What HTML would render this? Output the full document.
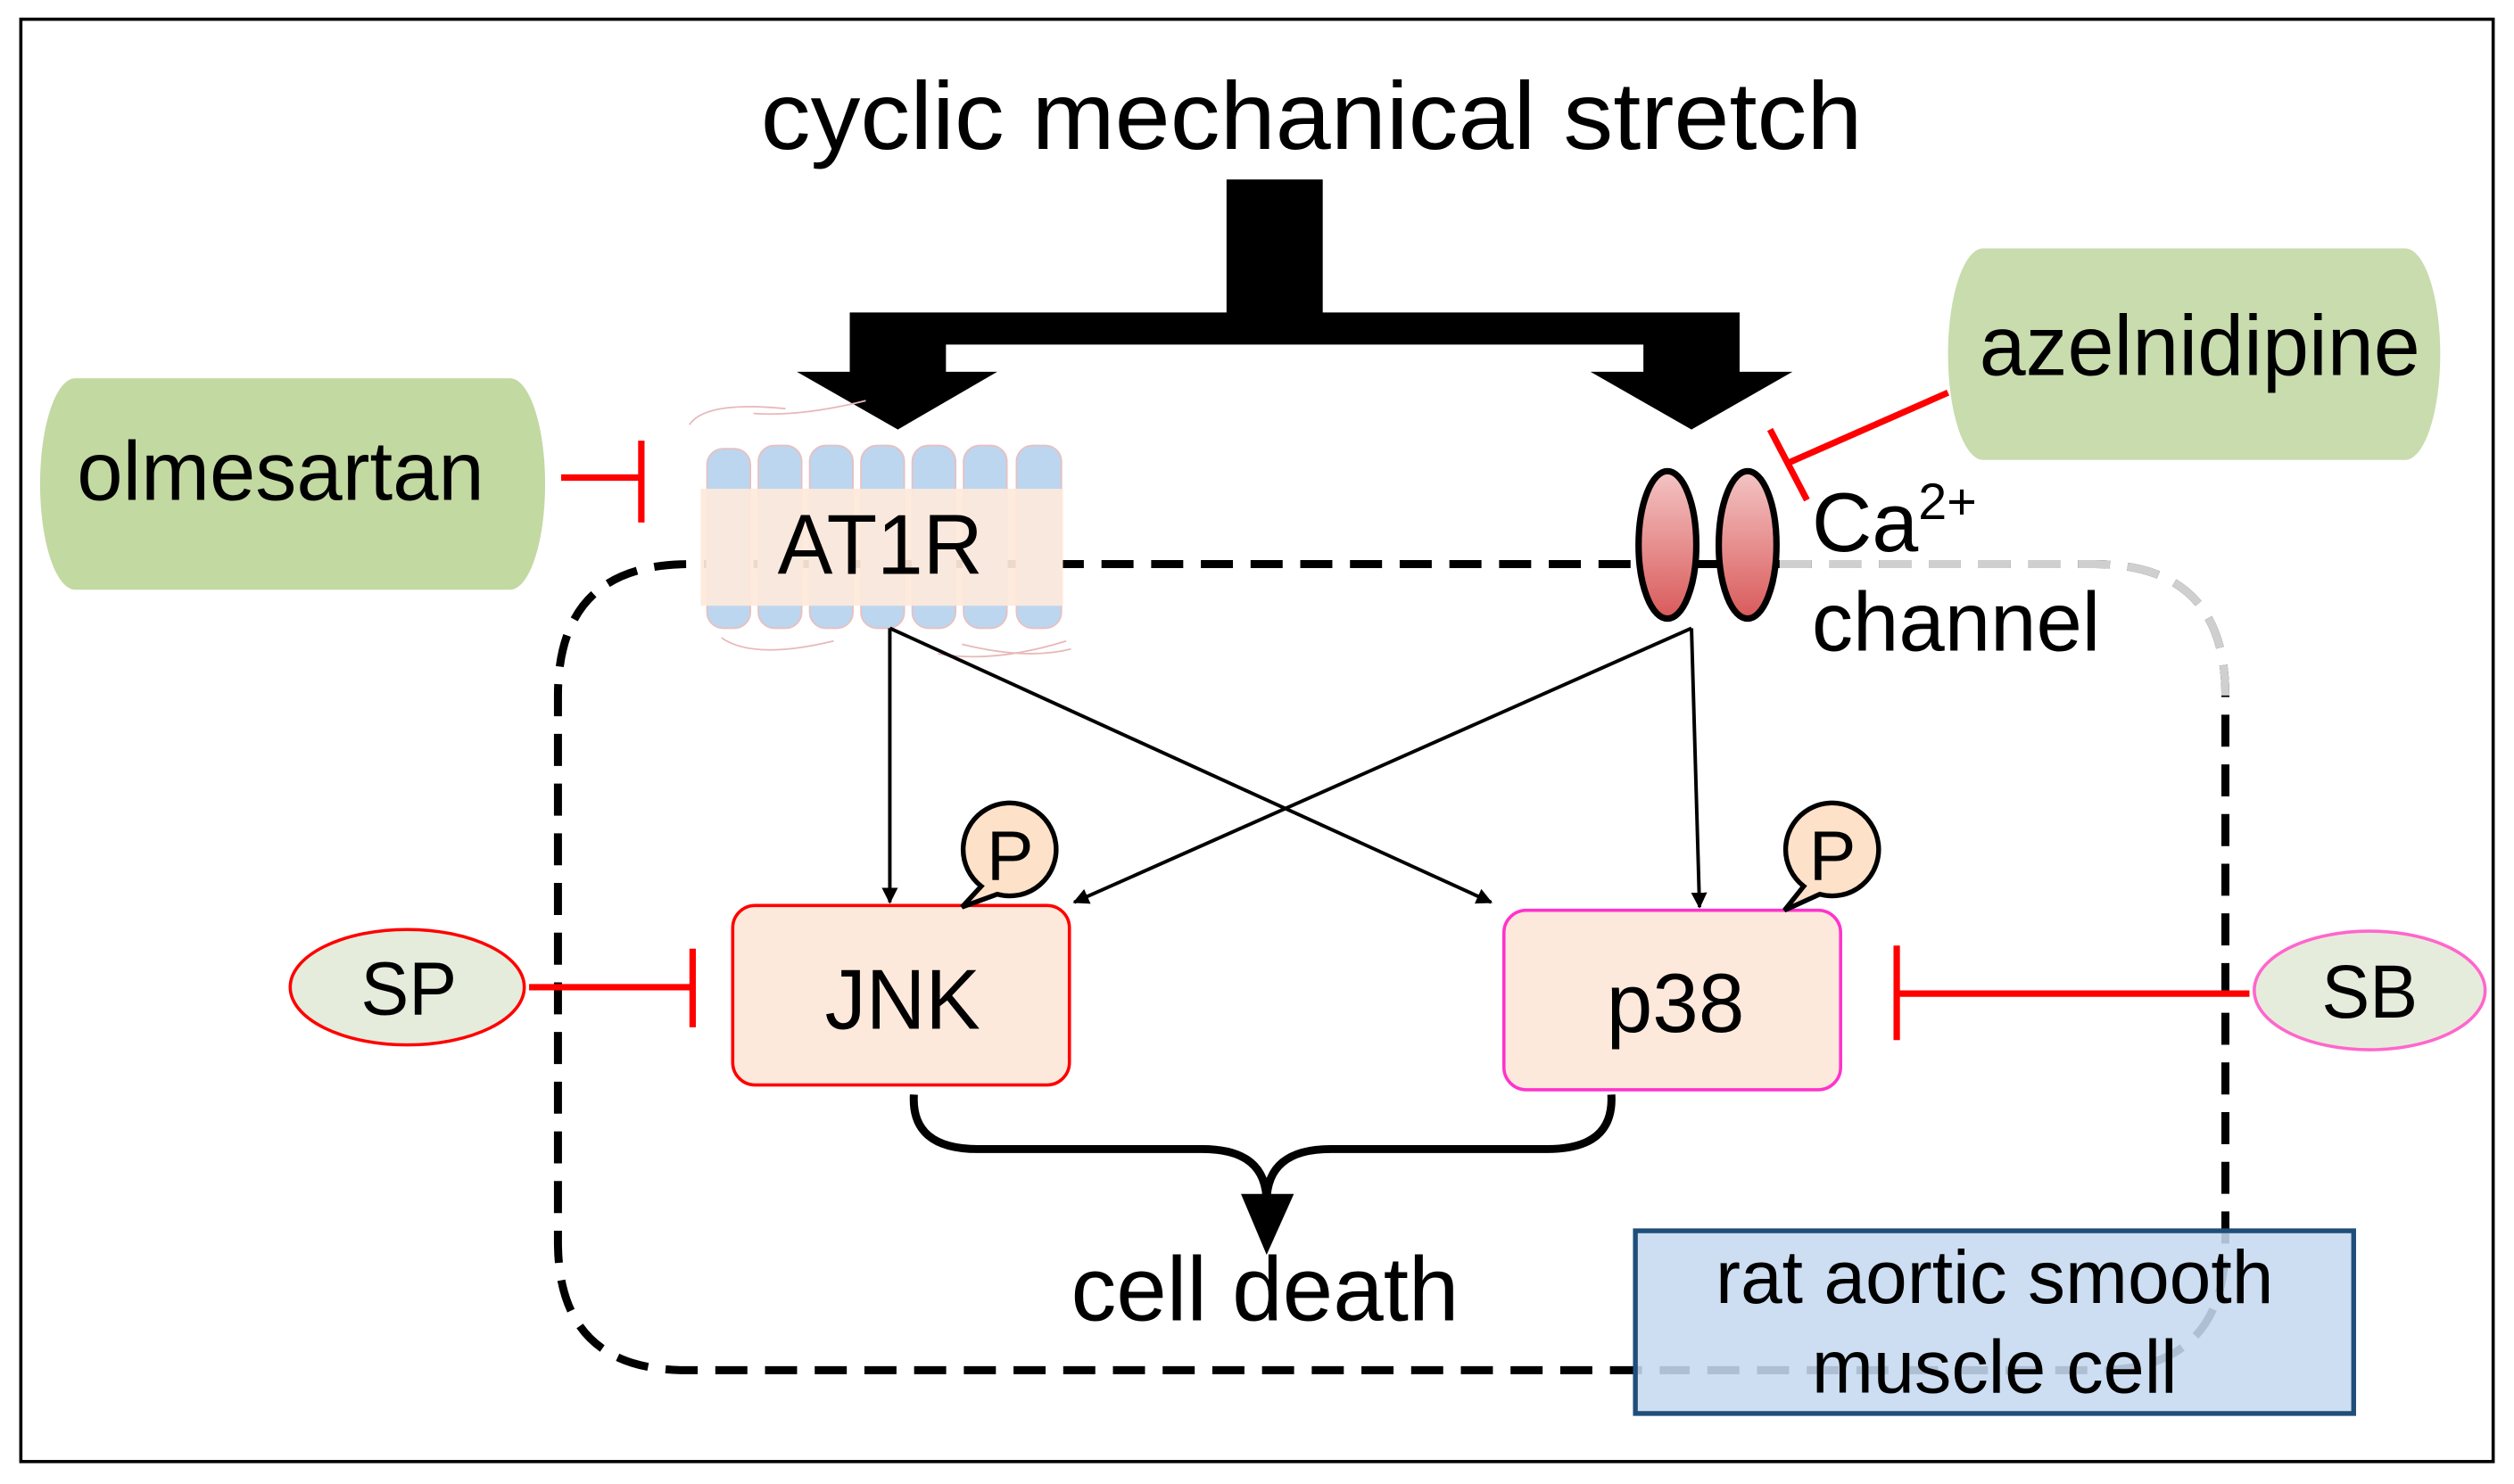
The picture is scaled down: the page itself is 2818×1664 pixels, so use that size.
<!DOCTYPE html>
<html><head><meta charset="utf-8"><style>html,body{margin:0;padding:0;background:#fff}svg{display:block}</style></head>
<body>
<svg width="2818" height="1664" viewBox="0 0 1568 926" preserveAspectRatio="none" xmlns="http://www.w3.org/2000/svg" font-family="Liberation Sans, Arial, sans-serif">
<defs>
<linearGradient id="rg" x1="0" y1="0" x2="0" y2="1"><stop offset="0" stop-color="#f4c4c4"/><stop offset="1" stop-color="#d95a5a"/></linearGradient>
<marker id="ah" markerWidth="10" markerHeight="10" refX="9" refY="5" orient="auto" markerUnits="userSpaceOnUse"><path d="M0,0 L10,5 L0,10 z" fill="#000"/></marker>
</defs>
<rect x="13" y="12" width="1542" height="900" fill="#fff" stroke="#000" stroke-width="2"/>
<text x="818" y="93" font-size="60" text-anchor="middle" textLength="687" lengthAdjust="spacingAndGlyphs">cyclic mechanical stretch</text>
<!-- big arrow -->
<path d="M765,112 H825 V195 H1085 V232 H1118 L1055,268 L992,232 H1025 V215 H590 V232 H622 L560,268 L497,232 H530 V195 H765 Z" fill="#000"/>
<!-- dashed cell -->
<path d="M1110,352 H430 Q348,352 348,434 V775 Q348,855 428,855 H1040" fill="none" stroke="#000" stroke-width="5" stroke-dasharray="20 11"/>
<path d="M1110,352 H1306 Q1388,352 1388,434 V775 Q1388,855 1308,855 H1040" fill="none" stroke="#000" stroke-width="5" stroke-dasharray="20 11"/>
<path d="M1110,352 H1306 Q1388,352 1388,434" fill="none" stroke="#cfcfcf" stroke-width="5" stroke-dasharray="20 11"/>
<!-- olmesartan -->
<path d="M47,236 H318 A22,66 0 0 1 318,368 H47 A22,66 0 0 1 47,236 Z" fill="#c2d9a2"/>
<text x="175" y="312" font-size="52" text-anchor="middle" textLength="254" lengthAdjust="spacingAndGlyphs">olmesartan</text>
<path d="M350,298 H400 M400,275 V326" stroke="#f00" stroke-width="4" fill="none"/>
<!-- AT1R -->
<g stroke="#e8b8b8" stroke-width="1" fill="none">
<path d="M430,265 Q440,250 490,255 M470,258 Q500,260 540,250"/>
<path d="M450,398 Q470,412 520,400 M600,402 Q640,412 668,405 M585,408 Q620,414 665,400"/>
</g>
<g fill="#bcd6ef" stroke="#e8c0c0" stroke-width="1">
<rect x="441" y="280" width="27" height="112" rx="10"/><rect x="473" y="278" width="27" height="114" rx="10"/><rect x="505" y="278" width="27" height="114" rx="10"/><rect x="537" y="278" width="27" height="114" rx="10"/><rect x="569" y="278" width="27" height="114" rx="10"/><rect x="601" y="278" width="27" height="114" rx="10"/><rect x="634" y="278" width="28" height="114" rx="10"/>
</g>
<rect x="437" y="305" width="226" height="73" fill="#fde9dc" opacity="0.93"/>
<text x="549" y="358" font-size="53" text-anchor="middle" textLength="128" lengthAdjust="spacingAndGlyphs">AT1R</text>
<!-- azelnidipine -->
<path d="M1237,155 H1500 A22,66 0 0 1 1500,287 H1237 A22,66 0 0 1 1237,155 Z" fill="#c8dcae"/>
<text x="1372" y="234" font-size="53" text-anchor="middle" textLength="275" lengthAdjust="spacingAndGlyphs">azelnidipine</text>
<path d="M1215,245 L1115,289 M1104,268 L1127,312" stroke="#f00" stroke-width="4" fill="none"/>
<!-- Ca channel -->
<line x1="1040" y1="352" x2="1090" y2="352" stroke="#000" stroke-width="5"/>
<ellipse cx="1040" cy="340" rx="18" ry="46" fill="url(#rg)" stroke="#000" stroke-width="4"/>
<ellipse cx="1090" cy="340" rx="18" ry="46" fill="url(#rg)" stroke="#000" stroke-width="4"/>
<text x="1130" y="344" font-size="52">Ca<tspan font-size="32" dy="-20">2+</tspan></text>
<text x="1130" y="406" font-size="52" textLength="180" lengthAdjust="spacingAndGlyphs">channel</text>
<!-- thin arrows -->
<g stroke="#000" stroke-width="2.2" fill="none" marker-end="url(#ah)">
<line x1="555" y1="392" x2="555" y2="563"/>
<line x1="555" y1="392" x2="930" y2="563"/>
<line x1="1055" y1="392" x2="670" y2="563"/>
<line x1="1055" y1="392" x2="1060" y2="566"/>
</g>
<!-- JNK -->
<rect x="457" y="565" width="210" height="112" rx="14" fill="#fde9dc" stroke="#f00" stroke-width="2"/>
<text x="563" y="642" font-size="53" text-anchor="middle" textLength="97" lengthAdjust="spacingAndGlyphs">JNK</text>
<!-- p38 -->
<rect x="938" y="568" width="210" height="112" rx="14" fill="#fde9dc" stroke="#ff33cc" stroke-width="2"/>
<text x="1045" y="644" font-size="52" text-anchor="middle" textLength="86" lengthAdjust="spacingAndGlyphs">p38</text>
<!-- P bubbles -->
<g stroke="#000" stroke-width="3" fill="#fde1c8">
<path d="M612,553 A29,29 0 1 1 622,558 L600,566 Z"/>
<path d="M1125,553 A29,29 0 1 1 1135,558 L1113,568 Z"/>
</g>
<text x="630" y="549" font-size="44" text-anchor="middle">P</text>
<text x="1143" y="549" font-size="44" text-anchor="middle">P</text>
<!-- SP / SB -->
<ellipse cx="254" cy="616" rx="73" ry="36" fill="#e6ecdc" stroke="#f00" stroke-width="2"/>
<text x="255" y="633" font-size="47" text-anchor="middle" textLength="60" lengthAdjust="spacingAndGlyphs">SP</text>
<path d="M330,616 H432 M432,592 V641" stroke="#f00" stroke-width="4" fill="none"/>
<ellipse cx="1478" cy="618" rx="72" ry="37" fill="#e6ecdc" stroke="#ff66cc" stroke-width="2"/>
<text x="1478" y="635" font-size="47" text-anchor="middle" textLength="60" lengthAdjust="spacingAndGlyphs">SB</text>
<path d="M1183,620 H1403 M1183,590 V649" stroke="#f00" stroke-width="4" fill="none"/>
<!-- merge to cell death -->
<path d="M570,683 Q568,717 610,717 H750 Q790,717 790,750 M1005,683 Q1007,717 965,717 H830 Q790,717 790,750" fill="none" stroke="#000" stroke-width="5"/>
<path d="M774,745 H807 L790,783 Z" fill="#000"/>
<text x="789" y="824" font-size="57" text-anchor="middle" textLength="242" lengthAdjust="spacingAndGlyphs">cell death</text>
<!-- blue box -->
<rect x="1020" y="768" width="448" height="114" fill="#c6d9f0" fill-opacity="0.88" stroke="#1f4e79" stroke-width="3"/>
<text x="1244" y="813" font-size="47" text-anchor="middle" textLength="348" lengthAdjust="spacingAndGlyphs">rat aortic smooth</text>
<text x="1244" y="869" font-size="47" text-anchor="middle" textLength="228" lengthAdjust="spacingAndGlyphs">muscle cell</text>
</svg>
</body></html>
